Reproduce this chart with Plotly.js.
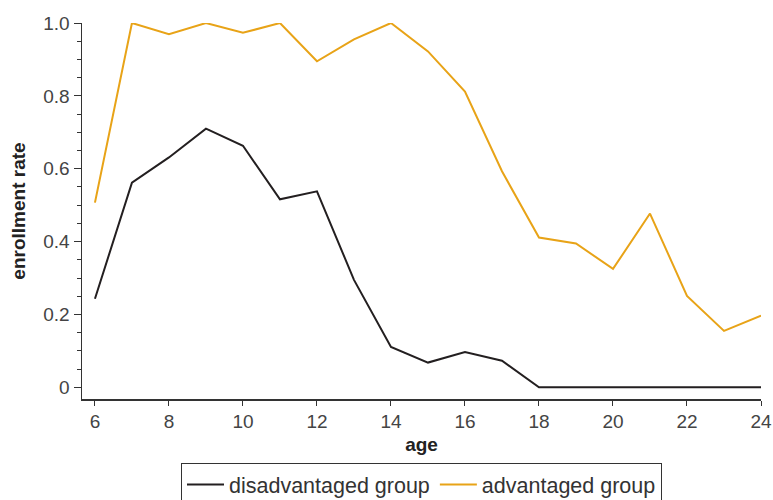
<!DOCTYPE html>
<html>
<head>
<meta charset="utf-8">
<script src="https://cdn.plot.ly/plotly-3.0.1.min.js"></script>
<style>html,body{margin:0;padding:0;background:#fff;}#chart{width:773px;height:500px;}</style>
</head>
<body>
<div id="chart"></div>
<script>
const ages = [6,7,8,9,10,11,12,13,14,15,16,17,18,19,20,21,22,23,24];
const disadvantaged = [0.243,0.562,0.631,0.710,0.663,0.516,0.538,0.295,0.111,0.068,0.097,0.073,0,0,0,0,0,0,0];
const advantaged = [0.507,1.0,0.969,1.0,0.973,1.0,0.895,0.955,1.0,0.922,0.812,0.593,0.411,0.395,0.325,0.477,0.251,0.155,0.197];
const seriesNames = ["disadvantaged group","advantaged group"];
const xTicks = [6,8,10,12,14,16,18,20,22,24];
const yTickVals = [0,0.2,0.4,0.6,0.8,1.0];
const yTickText = ["0","0.2","0.4","0.6","0.8","1.0"];

const font = "Liberation Sans, Arial, sans-serif";
const traces = [
  {x: ages, y: disadvantaged, name: seriesNames[0], type: "scatter", mode: "lines",
   line: {color: "#231f20", width: 2}, cliponaxis: false},
  {x: ages, y: advantaged, name: seriesNames[1], type: "scatter", mode: "lines",
   line: {color: "#e8a317", width: 2}, cliponaxis: false}
];
const layout = {
  width: 773, height: 500,
  margin: {l: 82, r: 12, t: 23, b: 101, pad: 0},
  paper_bgcolor: "#fff", plot_bgcolor: "#fff",
  font: {family: font, size: 19, color: "#333"},
  showlegend: true,
  legend: {orientation: "h", x: 0.5, xanchor: "center", xref: "paper",
    y: 0.074, yanchor: "top", yref: "container", itemwidth: 37,
    bordercolor: "#333", borderwidth: 1, font: {size: 21.5, color: "#333"}, traceorder: "normal"},
  xaxis: {
    range: [5.65, 24], tickvals: xTicks, ticks: "outside", ticklen: 5, tickcolor: "#333",
    showline: true, linecolor: "#333", linewidth: 1.5, showgrid: false, zeroline: false,
    title: {text: "<b>age</b>", font: {size: 19, color: "#222"}, standoff: 6},
    tickfont: {size: 19, color: "#444"}
  },
  yaxis: {
    range: [-0.032, 1.0], tickvals: yTickVals, ticktext: yTickText, ticks: "outside", ticklen: 7,
    tickcolor: "#333", showline: true, linecolor: "#333", linewidth: 1.5, showgrid: false, zeroline: false,
    minor: {dtick: 0.05, ticks: "outside", ticklen: 4, tickcolor: "#333", showgrid: false},
    title: {text: "<b>enrollment rate</b>", font: {size: 19, color: "#222"}, standoff: 12},
    tickfont: {size: 19, color: "#444"}
  }
};
Plotly.newPlot("chart", traces, layout, {displayModeBar: false, staticPlot: true});
</script>
</body>
</html>
